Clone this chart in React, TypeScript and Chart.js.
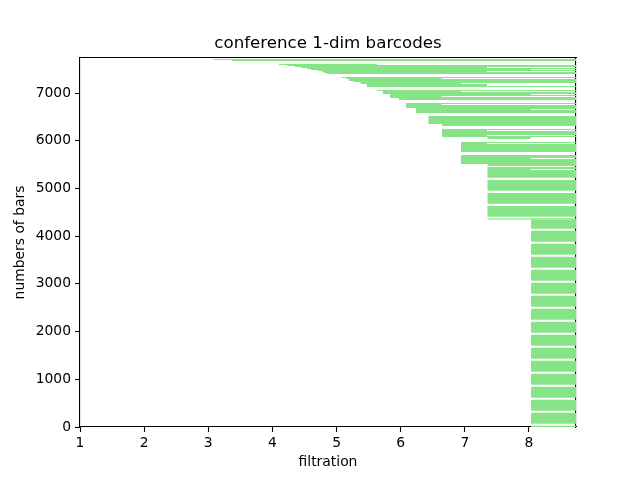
import React, { useEffect, useRef } from "react";
import { Chart, registerables } from "chart.js";

Chart.register(...registerables);

const FONT = "'DejaVu Sans', 'Liberation Sans', sans-serif";
const BAR_COLOR = "#87e387";

const titleText = "conference 1-dim barcodes";
const xLabel = "filtration";
const yLabel = "numbers of bars";

const xTicks = [1, 2, 3, 4, 5, 6, 7, 8];
const yTicks = [0, 1000, 2000, 3000, 4000, 5000, 6000, 7000];
const xMin = 1;
const xMax = 8.733;
const yMin = 0;
const yMax = 7735;
const INF = 8.733; // death value of bars that never die (drawn to the right edge)

// Each row: bars from rowLow to rowHigh (bar index), born at rowBirth, dying at rowDeath
const rowLow = [
  0, 69, 342, 614, 887, 1159, 1432, 1704, 1976, 2249, 2521, 2794, 3066, 3339, 3611, 3884, 4156,
  4350,
  4408, 4680, 4953, 5225, 5387, 5408,
  5470,
  5512, 5617, 5638,
  5764, 5932, 5953,
  6036, 6078, 6099, 6120, 6204, 6225,
  6309,
  6351,
  6581, 6644, 6665,
  6686, 6749, 6770,
  6854,
  6896, 6917, 6938, 6959,
  6980, 7021,
  7042,
  7126, 7147,
  7189, 7210,
  7231, 7252, 7294, 7315,
  7399, 7420, 7441, 7462, 7483, 7504, 7525, 7546, 7567, 7588,
  7671, 7692,
];
const rowHigh = [
  27, 300, 572, 845, 1117, 1390, 1662, 1935, 2207, 2480, 2752, 3024, 3297, 3569, 3842, 4114, 4350,
  4375,
  4632, 4904, 5177, 5387, 5408, 5450,
  5512,
  5617, 5638, 5701,
  5932, 5953, 5974,
  6078, 6099, 6120, 6204, 6225, 6246,
  6351,
  6519,
  6644, 6665, 6686,
  6749, 6770, 6791,
  6896,
  6917, 6938, 6959, 6980,
  7021, 7042,
  7063,
  7147, 7189,
  7210, 7231,
  7252, 7294, 7315, 7336,
  7420, 7441, 7462, 7483, 7504, 7525, 7546, 7567, 7588, 7609,
  7692, 7713,
];
const rowBirth = [
  8.03, 8.03, 8.03, 8.03, 8.03, 8.03, 8.03, 8.03, 8.03, 8.03, 8.03, 8.03, 8.03, 8.03, 8.03, 8.03, 8.03,
  7.35,
  7.35, 7.35, 7.35, 7.35, 7.35, 7.35,
  7.35,
  6.94, 6.94, 6.94,
  6.94, 6.94, 6.94,
  7.35, 6.64, 6.64, 6.64, 6.64, 6.64,
  6.64,
  6.43,
  6.24, 6.24, 6.24,
  6.08, 6.08, 6.08,
  5.97,
  5.83, 5.83, 5.83, 5.83,
  5.72, 5.72,
  5.63,
  5.47, 5.47,
  5.37, 5.37,
  5.26, 5.19, 5.15, 5.08,
  4.85, 4.8, 4.77, 4.71, 4.6, 4.54, 4.45, 4.35, 4.23, 4.1,
  3.37, 3.09,
];
const rowDeath = [
  INF, INF, INF, INF, INF, INF, INF, INF, INF, INF, INF, INF, INF, INF, INF, INF, INF,
  INF,
  INF, INF, INF, INF, 8.03, INF,
  INF,
  INF, 8.03, INF,
  INF, 7.35, INF,
  8.03, INF, 7.35, INF, 7.35, INF,
  INF,
  INF,
  INF, 8.03, INF,
  INF, 6.64, INF,
  INF,
  INF, 6.64, INF, 8.03,
  INF, 6.94,
  INF,
  INF, 7.35,
  6.94, INF,
  INF, INF, 6.64, INF,
  INF, INF, 7.35, INF, 8.03, INF, 7.35, INF, INF, 5.63,
  INF, INF,
];

export default function App() {
  const canvasRef = useRef<HTMLCanvasElement | null>(null);

  useEffect(() => {
    const canvas = canvasRef.current;
    if (!canvas) return;

    const datasets = rowLow.map((low, i) => ({
      label: "bars " + i,
      data: [
        { x: rowBirth[i], y: low },
        { x: rowDeath[i], y: low },
      ],
      fill: { value: rowHigh[i] },
      backgroundColor: BAR_COLOR,
      borderColor: "rgba(0,0,0,0)",
      borderWidth: 0,
      pointRadius: 0,
      pointHoverRadius: 0,
      tension: 0,
    }));

    const tickFont = { family: FONT, size: 13.89 };

    const chart = new Chart(canvas, {
      type: "line",
      data: { datasets },
      options: {
        animation: false,
        responsive: false,
        devicePixelRatio: 1,
        events: [],
        layout: { padding: { top: 34, right: 64, bottom: 0, left: 0 } },
        plugins: {
          legend: { display: false },
          tooltip: { enabled: false },
          title: {
            display: true,
            text: titleText,
            fullSize: false,
            color: "#000",
            font: { family: FONT, size: 16.67, weight: "normal" },
            padding: { top: 0, bottom: 4 },
          },
        },
        scales: {
          x: {
            type: "linear",
            position: "bottom",
            min: xMin,
            max: xMax,
            afterBuildTicks: (s: any) => {
              s.ticks = xTicks.map((v) => ({ value: v }));
            },
            ticks: {
              color: "#000",
              font: tickFont,
              padding: 3,
              maxRotation: 0,
              callback: (v: any) => String(v),
            },
            grid: {
              drawOnChartArea: false,
              drawTicks: true,
              tickLength: 5,
              tickColor: "#000",
              tickWidth: 1.1,
            },
            border: { display: true, color: "#000", width: 1.1 },
            title: {
              display: true,
              text: xLabel,
              color: "#000",
              font: tickFont,
              padding: { top: 0, bottom: 8.9 },
            },
            afterFit: (s: any) => {
              s.height = 53;
            },
          },
          y: {
            type: "linear",
            position: "left",
            min: yMin,
            max: yMax,
            afterBuildTicks: (s: any) => {
              s.ticks = yTicks.map((v) => ({ value: v }));
            },
            ticks: {
              color: "#000",
              font: tickFont,
              padding: 4,
              callback: (v: any) => String(v),
            },
            grid: {
              drawOnChartArea: false,
              drawTicks: true,
              tickLength: 5,
              tickColor: "#000",
              tickWidth: 1.1,
            },
            border: { display: true, color: "#000", width: 1.1 },
            title: {
              display: true,
              text: yLabel,
              color: "#000",
              font: tickFont,
              padding: { top: 12.5, bottom: 0 },
            },
            afterFit: (s: any) => {
              s.width = 80;
            },
          },
          x2: {
            type: "linear",
            axis: "x",
            position: "top",
            min: xMin,
            max: xMax,
            ticks: { display: false },
            grid: { drawOnChartArea: false, drawTicks: false },
            border: { display: true, color: "#000", width: 1.1 },
            afterFit: (s: any) => {
              s.height = 0;
            },
          },
          y2: {
            type: "linear",
            axis: "y",
            position: "right",
            min: yMin,
            max: yMax,
            ticks: { display: false },
            grid: { drawOnChartArea: false, drawTicks: false },
            border: { display: true, color: "#000", width: 1.1 },
            afterFit: (s: any) => {
              s.width = 0;
            },
          },
        },
      } as any,
    });

    return () => {
      chart.destroy();
    };
  }, []);

  return (
    <div style={{ position: "absolute", left: 0, top: 0, width: 640, height: 480, background: "#fff" }}>
      <canvas ref={canvasRef} width={640} height={480} style={{ display: "block", width: 640, height: 480 }} />
    </div>
  );
}
